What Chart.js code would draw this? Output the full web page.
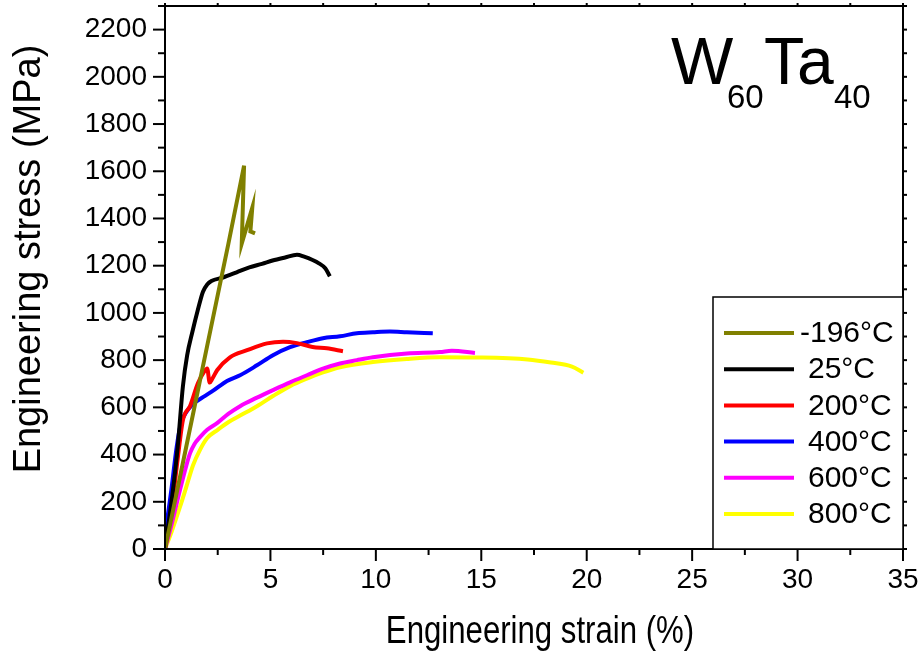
<!DOCTYPE html>
<html>
<head>
<meta charset="utf-8">
<script src="https://cdn.jsdelivr.net/npm/chart.js@4.4.1/dist/chart.umd.min.js"></script>
<style>
html, body { margin: 0; padding: 0; background: #fff; }
</style>
</head>
<body>
<canvas id="c" width="923" height="653"></canvas>
<script>
// ===== data (strain %, stress MPa) =====
const tempLabels = ["-196°C", "25°C", "200°C", "400°C", "600°C", "800°C"];
const lineColors = ["#808000", "#000000", "#ff0000", "#0000ff", "#ff00ff", "#ffff00"];

const strainM196 = [0, 1.0, 2.0, 3.0, 3.75, 3.64, 4.14, 4.05, 4.27];
const stressM196 = [0, 430, 860, 1290, 1624, 1294, 1446, 1345, 1337];

const strain25 = [0, 0.35, 0.6, 0.85, 1.05, 1.3, 1.55, 1.8, 2.0, 2.2, 2.75, 3.4, 4.0, 4.6, 5.1, 5.7, 6.26, 6.6, 7.0, 7.3, 7.6, 7.82];
const stress25 = [0, 230, 430, 690, 820, 920, 1010, 1090, 1120, 1135, 1150, 1172, 1193, 1208, 1222, 1235, 1246, 1238, 1224, 1210, 1189, 1155];

const strain200 = [0, 0.33, 0.6, 0.85, 1.19, 1.56, 1.85, 2.0, 2.12, 2.25, 2.47, 3.08, 3.89, 4.84, 5.6, 6.26, 7.0, 7.68, 8.44];
const stress200 = [0, 178, 380, 546, 606, 702, 750, 765, 705, 722, 757, 812, 842, 871, 878, 872, 856, 850, 838];

const strain400 = [0, 0.3, 0.55, 0.75, 1.0, 1.3, 1.8, 2.3, 2.94, 3.56, 4.36, 5.12, 5.93, 6.73, 7.49, 8.3, 9.1, 9.86, 10.67, 11.47, 12.7];
const stress400 = [60, 250, 430, 530, 578, 612, 643, 672, 712, 736, 778, 821, 855, 876, 893, 901, 914, 918, 921, 918, 914];

const strain600 = [0, 0.3, 0.71, 1.0, 1.19, 1.4, 1.66, 2.0, 2.47, 3.0, 3.56, 4.36, 5.12, 5.93, 6.73, 7.49, 8.3, 9.1, 9.86, 11.47, 13.04, 13.6, 14.7];
const stress600 = [0, 100, 250, 350, 406, 445, 474, 505, 533, 572, 605, 641, 673, 706, 736, 764, 786, 800, 812, 828, 834, 840, 830];

const strain800 = [0, 0.3, 0.71, 1.0, 1.33, 1.66, 2.0, 2.5, 3.0, 3.56, 4.36, 5.12, 5.93, 6.73, 7.49, 8.3, 9.86, 11.47, 13.04, 14.9, 17.2, 18.3, 19.3, 19.84];
const stress800 = [0, 70, 178, 260, 355, 420, 470, 505, 537, 565, 605, 648, 690, 722, 748, 770, 792, 805, 812, 811, 803, 790, 773, 747];

const xTicks = [0, 5, 10, 15, 20, 25, 30, 35];
const yTicks = [0, 200, 400, 600, 800, 1000, 1200, 1400, 1600, 1800, 2000, 2200];

const strainSets = [strainM196, strain25, strain200, strain400, strain600, strain800];
const stressSets = [stressM196, stress25, stress200, stress400, stress600, stress800];

// ===== helper =====
function zip(xs, ys) {
    return xs.map((x, i) => ({ x: x, y: ys[i] }));
}

function line(ctx, x1, y1, x2, y2) {
    ctx.beginPath();
    ctx.moveTo(x1, y1);
    ctx.lineTo(x2, y2);
    ctx.stroke();
}

// ------------------------ frame, minor ticks, legend, texts ------------------------
const decoPlugin = {
    id: "deco",
    afterDraw(chart) {
        const ctx = chart.ctx;
        const a = chart.chartArea;
        const xs = chart.scales.x;
        const ys = chart.scales.y;

        ctx.save();
        ctx.strokeStyle = "#000";
        ctx.lineWidth = 2;
        ctx.strokeRect(a.left, a.top, a.right - a.left, a.bottom - a.top);

        // x ticks (major 5, minor 2.5)
        for (let v = 0; v <= 35; v += 2.5) {
            const px = xs.getPixelForValue(v);
            const major = v % 5 === 0;
            line(ctx, px, a.bottom, px, a.bottom + (major ? 12 : 6));
            line(ctx, px, a.top, px, a.top - 3);
        }
        // y ticks (major 200, minor 100)
        for (let v = 0; v <= 2300; v += 100) {
            const py = ys.getPixelForValue(v);
            const major = v % 200 === 0;
            line(ctx, a.left, py, a.left - (major ? 12 : 7), py);
            line(ctx, a.right, py, a.right + 4, py);
        }

        // legend box
        const lx = 713, ly = 297, lw = a.right - 713, lh = a.bottom - 297;
        ctx.fillStyle = "#fff";
        ctx.fillRect(lx, ly, lw, lh);
        ctx.lineWidth = 1.5;
        ctx.strokeRect(lx, ly, lw, lh);
        ctx.font = "30px 'Liberation Sans', Arial, sans-serif";
        ctx.textBaseline = "middle";
        ctx.textAlign = "left";
        chart.data.datasets.forEach((ds, i) => {
            const ry = 333 + i * 36.2;
            ctx.strokeStyle = ds.borderColor;
            ctx.lineWidth = 4;
            line(ctx, 724, ry, 794, ry);
            ctx.fillStyle = "#000";
            const tx = ds.label.startsWith("-") ? 800 : 808;
            ctx.fillText(ds.label, tx, ry + 1);
        });

        // W60Ta40
        ctx.fillStyle = "#000";
        ctx.textBaseline = "alphabetic";
        ctx.font = "66px 'Liberation Sans', Arial, sans-serif";
        ctx.fillText("W", 671, 84);
        ctx.fillText("Ta", 764, 84);
        ctx.font = "33px 'Liberation Sans', Arial, sans-serif";
        ctx.fillText("60", 727, 108);
        ctx.fillText("40", 834, 108);

        // axis titles
        ctx.textAlign = "center";
        ctx.font = "38px 'Liberation Sans', Arial, sans-serif";
        ctx.save();
        ctx.translate(540, 643);
        ctx.scale(0.82, 1);
        ctx.fillText("Engineering strain (%)", 0, 0);
        ctx.restore();

        ctx.save();
        ctx.translate(40, 259);
        ctx.rotate(-Math.PI / 2);
        ctx.fillText("Engineering stress (MPa)", 0, 0);
        ctx.restore();

        ctx.restore();
    }
};

// ------------------------ chart ------------------------
const datasets = tempLabels.map((lab, i) => ({
    label: lab,
    data: zip(strainSets[i], stressSets[i]),
    borderColor: lineColors[i],
    backgroundColor: lineColors[i],
    borderWidth: 4,
    pointRadius: 0,
    fill: false,
    tension: 0,
    cubicInterpolationMode: i === 0 ? "default" : "monotone",
}));

const tickFont = { family: "'Liberation Sans', Arial, sans-serif", size: 28 };

new Chart(document.getElementById("c").getContext("2d"), {
    type: "line",
    data: { datasets },
    plugins: [decoPlugin],
    options: {
        responsive: false,
        animation: false,
        layout: { padding: { left: 0, right: 20, top: 6, bottom: 0 } },
        plugins: {
            legend: { display: false },
            tooltip: { enabled: false },
        },
        scales: {
            x: {
                type: "linear",
                min: 0,
                max: 35,
                grid: { display: false, drawTicks: false },
                border: { display: false },
                ticks: {
                    stepSize: 5,
                    color: "#000",
                    font: tickFont,
                    padding: 14,
                    maxRotation: 0,
                    autoSkip: false,
                    callback: v => (xTicks.includes(v) ? String(v) : ""),
                },
                afterFit: s => { s.height = 104; s.paddingLeft = 0; s.paddingRight = 0; },
            },
            y: {
                type: "linear",
                min: 0,
                max: 2300,
                grid: { display: false, drawTicks: false },
                border: { display: false },
                ticks: {
                    stepSize: 200,
                    includeBounds: false,
                    color: "#000",
                    font: tickFont,
                    padding: 18,
                    autoSkip: false,
                    callback: v => (yTicks.includes(v) ? String(v) : ""),
                },
                afterFit: s => { s.width = 165; s.paddingTop = 0; s.paddingBottom = 0; },
            },
        },
    },
});
</script>
</body>
</html>
